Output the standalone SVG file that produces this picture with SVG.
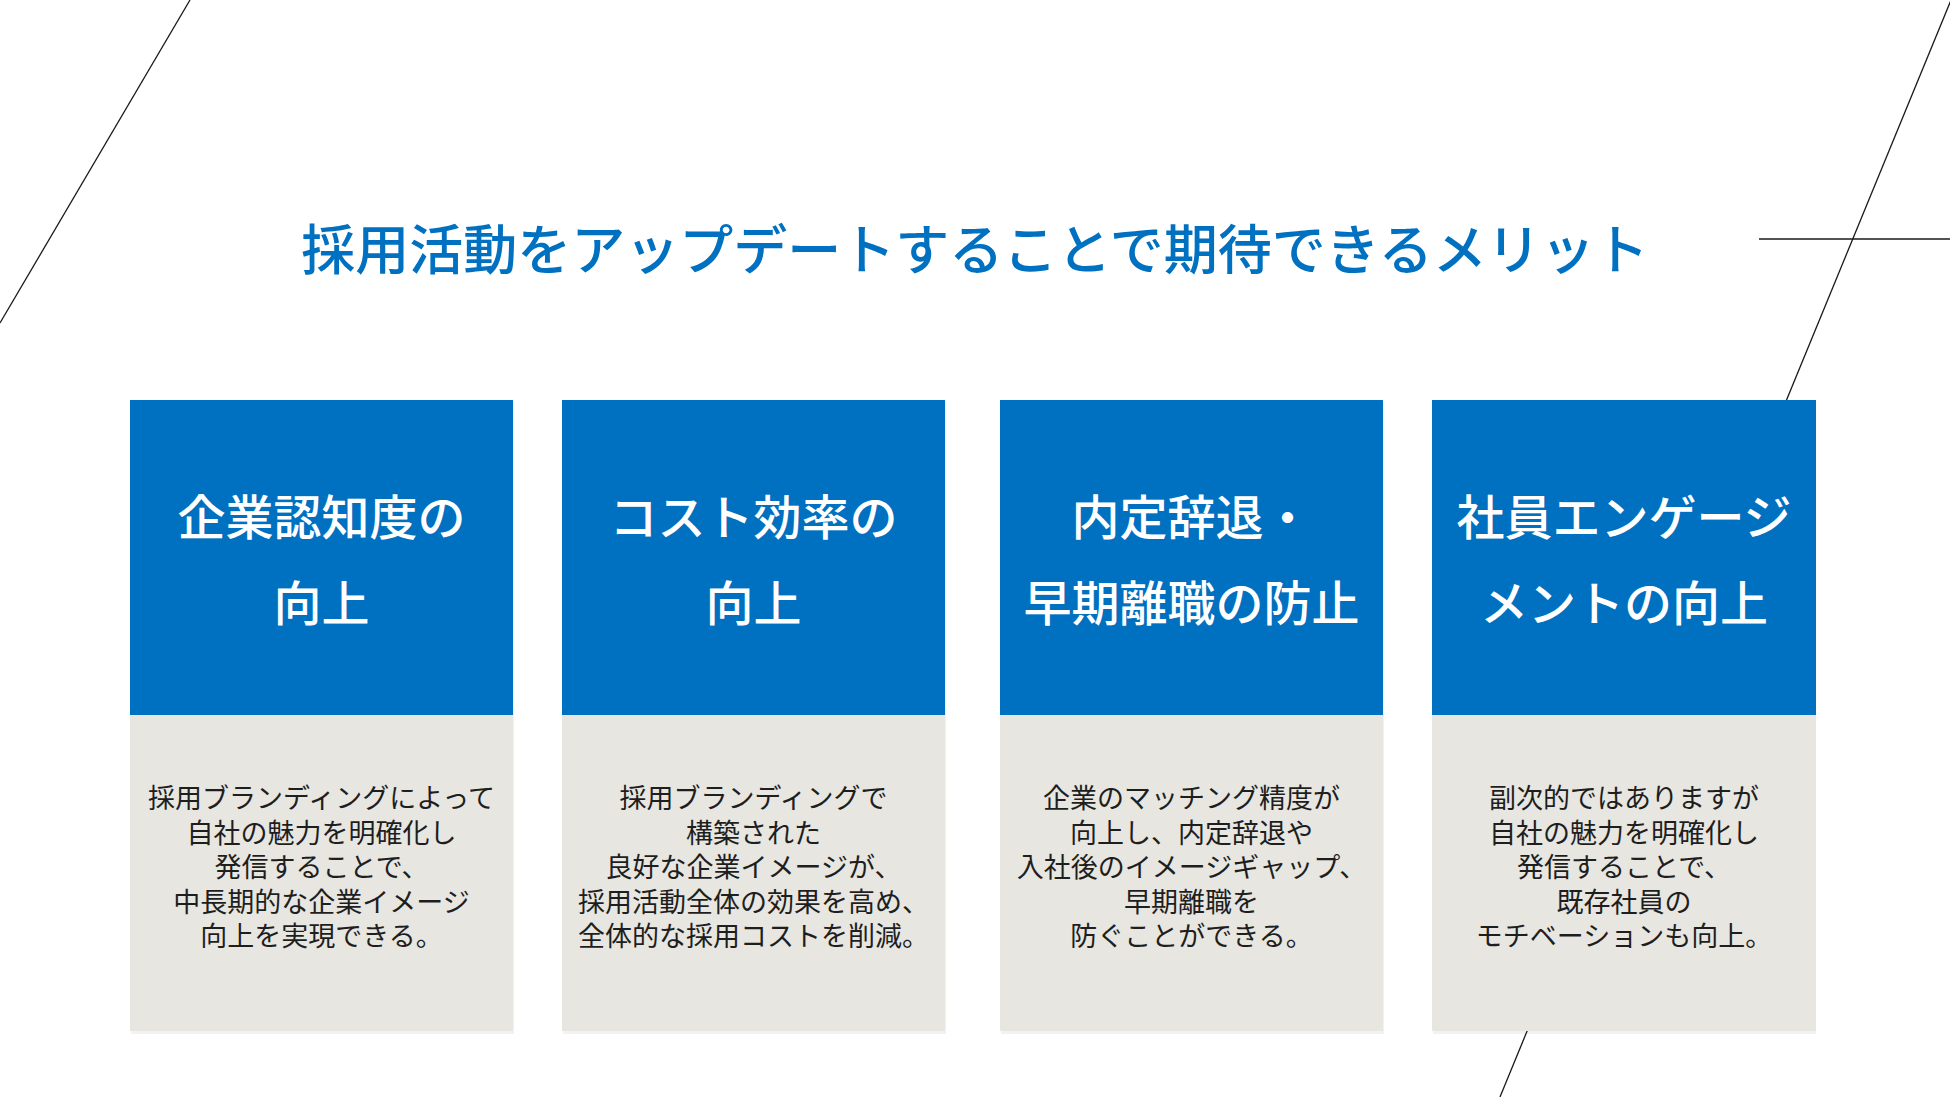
<svg xmlns="http://www.w3.org/2000/svg" width="1950" height="1097" viewBox="0 0 1950 1097">
<style>
.deco{stroke:#1a1a1a;stroke-width:1.3;fill:none}
.title{font-family:"Noto Sans CJK JP","Noto Sans",sans-serif;font-size:54px;font-weight:500;fill:#0070C0;text-anchor:middle}
.head{fill:#0070C0}
.body{fill:#E7E6E1}
.shadow{fill:#000;opacity:0.05}
.ht{font-family:"Noto Sans CJK JP","Noto Sans",sans-serif;font-size:48px;font-weight:500;fill:#ffffff;text-anchor:middle}
.bt{font-family:"Noto Sans CJK JP","Noto Sans",sans-serif;font-size:27px;font-weight:400;fill:#1e1e1e;text-anchor:middle}
</style>
<rect width="1950" height="1097" fill="#ffffff"/>
<g id="decor">
<line class="deco" x1="190" y1="0" x2="0" y2="323"/>
<line class="deco" x1="1951" y1="0" x2="1500" y2="1097"/>
<line class="deco" x1="1759" y1="239" x2="1950" y2="239"/>
</g>
<g id="title">
<text class="title" x="975" y="270">採用活動をアップデートすることで期待できるメリット</text>
</g>
<g id="connectors"></g>
<g id="node1">
<rect class="shadow" x="131" y="402" width="383" height="632"/>
<rect class="head" x="130" y="400" width="383" height="315"/>
<rect class="body" x="130" y="715" width="383" height="316"/>
<text class="ht" x="321.5" y="535">企業認知度の</text>
<text class="ht" x="321.5" y="621">向上</text>
<text class="bt" x="321.5" y="808">採用ブランディングによって</text>
<text class="bt" x="321.5" y="843">自社の魅力を明確化し</text>
<text class="bt" x="321.5" y="877">発信することで、</text>
<text class="bt" x="321.5" y="912">中長期的な企業イメージ</text>
<text class="bt" x="321.5" y="946">向上を実現できる。</text>
</g>
<g id="node2">
<rect class="shadow" x="563" y="402" width="383" height="632"/>
<rect class="head" x="562" y="400" width="383" height="315"/>
<rect class="body" x="562" y="715" width="383" height="316"/>
<text class="ht" x="753.5" y="535">コスト効率の</text>
<text class="ht" x="753.5" y="621">向上</text>
<text class="bt" x="753.5" y="808">採用ブランディングで</text>
<text class="bt" x="753.5" y="843">構築された</text>
<text class="bt" x="753.5" y="877">良好な企業イメージが、</text>
<text class="bt" x="753.5" y="912">採用活動全体の効果を高め、</text>
<text class="bt" x="753.5" y="946">全体的な採用コストを削減。</text>
</g>
<g id="node3">
<rect class="shadow" x="1001" y="402" width="383" height="632"/>
<rect class="head" x="1000" y="400" width="383" height="315"/>
<rect class="body" x="1000" y="715" width="383" height="316"/>
<text class="ht" x="1191.5" y="535">内定辞退・</text>
<text class="ht" x="1191.5" y="621">早期離職の防止</text>
<text class="bt" x="1191.5" y="808">企業のマッチング精度が</text>
<text class="bt" x="1191.5" y="843">向上し、内定辞退や</text>
<text class="bt" x="1191.5" y="877">入社後のイメージギャップ、</text>
<text class="bt" x="1191.5" y="912">早期離職を</text>
<text class="bt" x="1191.5" y="946">防ぐことができる。</text>
</g>
<g id="node4">
<rect class="shadow" x="1433" y="402" width="383" height="632"/>
<rect class="head" x="1432" y="400" width="384" height="315"/>
<rect class="body" x="1432" y="715" width="384" height="316"/>
<text class="ht" x="1624" y="535">社員エンゲージ</text>
<text class="ht" x="1624" y="621">メントの向上</text>
<text class="bt" x="1624" y="808">副次的ではありますが</text>
<text class="bt" x="1624" y="843">自社の魅力を明確化し</text>
<text class="bt" x="1624" y="877">発信することで、</text>
<text class="bt" x="1624" y="912">既存社員の</text>
<text class="bt" x="1624" y="946">モチベーションも向上。</text>
</g>
</svg>
